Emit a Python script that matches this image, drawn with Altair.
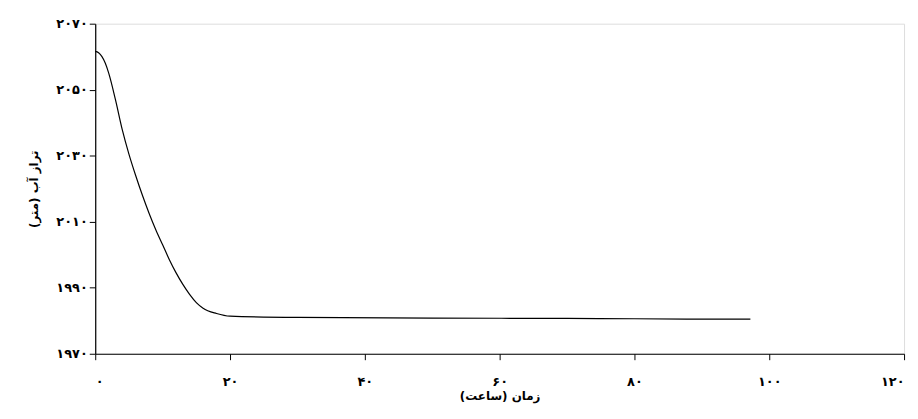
import altair as alt
import pandas as pd

hours = [0, 0.5, 1, 1.5, 2, 3, 4, 5, 6, 7, 8, 9, 10, 11, 12, 13, 14, 15, 16, 18, 20, 30, 50, 70, 80, 90, 97.2]
level = [2061.6, 2061.2, 2060, 2058, 2055, 2047, 2038, 2030.5, 2024, 2018, 2012.5, 2007.5, 2003, 1998.5, 1994.5, 1991, 1988, 1985.5, 1983.8, 1982.2, 1981.4, 1981.0, 1980.8, 1980.7, 1980.6, 1980.5, 1980.5]

df = pd.DataFrame({"t": hours, "h": level})

latin = "0123456789"
fa = "۰۱۲۳۴۵۶۷۸۹"
expr = "format(datum.value, 'd')"
for a, b in zip(latin, fa):
    expr = f"replace({expr}, /{a}/g, '{b}')"

axis_style = dict(
    labelExpr=expr, domainColor="black", tickColor="black", labelColor="black",
    labelFont="DejaVu Sans", labelFontSize=13, labelFontWeight="bold",
    titleFont="DejaVu Sans", titleFontSize=12, titleFontWeight="bold",
    titleColor="black", grid=False, tickSize=6, domainWidth=1.2,
)

chart = (
    alt.Chart(df)
    .mark_line(color="black", strokeWidth=1.2, interpolate="monotone")
    .encode(
        x=alt.X("t:Q", scale=alt.Scale(domain=[0, 120], nice=False),
                axis=alt.Axis(values=[0, 20, 40, 60, 80, 100, 120], title="زمان (ساعت)",
                              labelPadding=16, titlePadding=2, **axis_style)),
        y=alt.Y("h:Q", scale=alt.Scale(domain=[1970, 2070], nice=False, zero=False),
                axis=alt.Axis(values=[1970, 1990, 2010, 2030, 2050, 2070], title="تراز آب (متر)",
                              titlePadding=16, **axis_style)),
    )
    .properties(width=816, height=333, autosize=alt.AutoSizeParams(type="none"),
                padding={"left": 88, "top": 14, "right": 6, "bottom": 64})
    .configure_view(stroke=None)
    .configure(background="white")
)

chart.save("out.html", embed_options={"renderer": "svg", "actions": False})
